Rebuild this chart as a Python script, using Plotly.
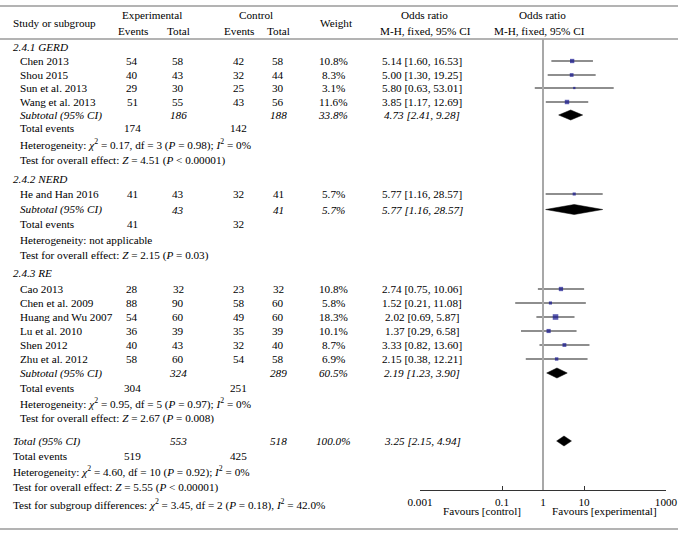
import plotly.graph_objects as go
import math

# ---------------- data ----------------
group_names = ["2.4.1 GERD", "2.4.2 NERD", "2.4.3 RE"]
study_names = ["Chen 2013", "Shou 2015", "Sun et al. 2013", "Wang et al. 2013",
               "He and Han 2016",
               "Cao 2013", "Chen et al. 2009", "Huang and Wu 2007", "Lu et al. 2010",
               "Shen 2012", "Zhu et al. 2012"]
study_group = [0, 0, 0, 0, 1, 2, 2, 2, 2, 2, 2]
exp_events = [54, 40, 29, 51, 41, 28, 88, 54, 36, 40, 58]
exp_total = [58, 43, 30, 55, 43, 32, 90, 60, 39, 43, 60]
ctrl_events = [42, 32, 25, 43, 32, 23, 58, 49, 35, 32, 54]
ctrl_total = [58, 44, 30, 56, 41, 32, 60, 60, 39, 40, 58]
weights = [10.8, 8.3, 3.1, 11.6, 5.7, 10.8, 5.8, 18.3, 10.1, 8.7, 6.9]
or_est = [5.14, 5.00, 5.80, 3.85, 5.77, 2.74, 1.52, 2.02, 1.37, 3.33, 2.15]
or_lo = [1.60, 1.30, 0.63, 1.17, 1.16, 0.75, 0.21, 0.69, 0.29, 0.82, 0.38]
or_hi = [16.53, 19.25, 53.01, 12.69, 28.57, 10.06, 11.08, 5.87, 6.58, 13.60, 12.21]

sub_exp_total = [186, 43, 324]
sub_ctrl_total = [188, 41, 289]
sub_weight = [33.8, 5.7, 60.5]
sub_or = [4.73, 5.77, 2.19]
sub_lo = [2.41, 1.16, 1.23]
sub_hi = [9.28, 28.57, 3.90]
sub_exp_events = [174, 41, 304]
sub_ctrl_events = [142, 32, 251]
het_chi2 = [0.17, None, 0.95]
het_df = [3, None, 5]
het_p = [0.98, None, 0.97]
het_i2 = [0, None, 0]
z_val = [4.51, 2.15, 2.67]
z_p = ["< 0.00001", "= 0.03", "= 0.008"]

tot_exp_total, tot_ctrl_total, tot_weight = 553, 518, 100.0
tot_or, tot_lo, tot_hi = 3.25, 2.15, 4.94
tot_exp_events, tot_ctrl_events = 519, 425
tot_chi2, tot_df, tot_p, tot_i2 = 4.60, 10, 0.92, 0
tot_z, tot_zp = 5.55, "< 0.00001"
diff_chi2, diff_df, diff_p, diff_i2 = 3.45, 2, 0.18, 42.0

null_value = 1
tick_vals = [0.001, 0.1, 1, 10, 1000]
tick_text = ["0.001", "0.1", "1", "10", "1000"]

# ---------------- layout (pixel rows) ----------------
W, H = 685, 537
FONT = "Liberation Serif"
FS = 11.2
group_rows = [
    dict(label=47, studies=[61, 75, 88, 102], sub=115, ev=128, het=144, test=160),
    dict(label=179, studies=[194], sub=209.5, ev=224, het=239.5, test=255),
    dict(label=273, studies=[289, 303, 317, 331, 345, 359], sub=373, ev=388, het=403, test=418),
]
tot_rows = dict(total=441, ev=456, het=471, test=487, diff=504)

X_NAME, X_NAME_IN = 11, 18
X_EE, X_ET, X_CE, X_CT, X_W, X_OR = 132, 178, 239, 278, 333, 422

fig = go.Figure()
ann = []


def txt(x, y, s, anchor="center", italic=False, size=FS):
    if italic:
        s = "<i>" + s + "</i>"
    ann.append(dict(x=x / W, y=y, xref="paper", yref="y", text=s, showarrow=False,
                    xanchor=anchor, yanchor="middle", font=dict(family=FONT, size=size, color="black")))


def het_text(c, d, p, i):
    return ("Heterogeneity: <i>χ</i><sup>2</sup> = %.2f, df = %d (<i>P</i> = %.2f); <i>I</i><sup>2</sup> = %g%%"
            % (c, d, p, i))


def test_text(z, p):
    return "Test for overall effect: <i>Z</i> = %.2f (<i>P</i> %s)" % (z, p)


# headers
txt(X_NAME, 23, "Study or subgroup", "left")
txt(152, 15, "Experimental")
txt(133, 31, "Events")
txt(178, 31, "Total")
txt(256, 15, "Control")
txt(239, 31, "Events")
txt(278, 31, "Total")
txt(336, 23, "Weight")
txt(424, 15, "Odds ratio")
txt(425, 31, "M-H, fixed, 95% CI")
txt(542, 15, "Odds ratio")
txt(539, 31, "M-H, fixed, 95% CI")

ci_x, ci_y, pt_x, pt_y, pt_s = [], [], [], [], []
counters = [0, 0, 0]
for i, name in enumerate(study_names):
    g = study_group[i]
    y = group_rows[g]["studies"][counters[g]]
    counters[g] += 1
    txt(X_NAME_IN, y, name, "left")
    txt(X_EE, y, str(exp_events[i]))
    txt(X_ET, y, str(exp_total[i]))
    txt(X_CE, y, str(ctrl_events[i]))
    txt(X_CT, y, str(ctrl_total[i]))
    txt(X_W, y, "%.1f%%" % weights[i])
    txt(X_OR, y, "%.2f [%.2f, %.2f]" % (or_est[i], or_lo[i], or_hi[i]))
    ci_x += [or_lo[i], or_hi[i], None]
    ci_y += [y, y, None]
    pt_x.append(or_est[i])
    pt_y.append(y)
    pt_s.append(1.3 * math.sqrt(weights[i]))

fig.add_trace(go.Scatter(x=ci_x, y=ci_y, mode="lines", line=dict(color="#1e1e1e", width=1.1),
                         hoverinfo="skip", showlegend=False))
fig.add_trace(go.Scatter(x=pt_x, y=pt_y, mode="markers",
                         marker=dict(symbol="square", size=pt_s, color="#14148f", line=dict(width=0)),
                         hoverinfo="skip", showlegend=False))


def diamond(lo, est, hi, y, h=5):
    fig.add_trace(go.Scatter(x=[lo, est, hi, est, lo], y=[y, y - h, y, y + h, y], mode="lines",
                             fill="toself", fillcolor="black", line=dict(color="black", width=0.5),
                             hoverinfo="skip", showlegend=False))


for g, gname in enumerate(group_names):
    r = group_rows[g]
    txt(X_NAME, r["label"], gname, "left", italic=True)
    txt(X_NAME_IN, r["sub"], "Subtotal (95% CI)", "left", italic=True)
    txt(X_ET, r["sub"], str(sub_exp_total[g]), italic=True)
    txt(X_CT, r["sub"], str(sub_ctrl_total[g]), italic=True)
    txt(X_W, r["sub"], "%.1f%%" % sub_weight[g], italic=True)
    txt(X_OR, r["sub"], "%.2f [%.2f, %.2f]" % (sub_or[g], sub_lo[g], sub_hi[g]), italic=True)
    diamond(sub_lo[g], sub_or[g], sub_hi[g], r["sub"])
    txt(X_NAME_IN, r["ev"], "Total events", "left")
    txt(X_EE, r["ev"], str(sub_exp_events[g]))
    txt(X_CE, r["ev"], str(sub_ctrl_events[g]))
    if het_chi2[g] is None:
        txt(X_NAME_IN, r["het"], "Heterogeneity: not applicable", "left")
    else:
        txt(X_NAME_IN, r["het"], het_text(het_chi2[g], het_df[g], het_p[g], het_i2[g]), "left")
    txt(X_NAME_IN, r["test"], test_text(z_val[g], z_p[g]), "left")

# overall
t = tot_rows
txt(X_NAME, t["total"], "Total (95% CI)", "left", italic=True)
txt(X_ET, t["total"], str(tot_exp_total), italic=True)
txt(X_CT, t["total"], str(tot_ctrl_total), italic=True)
txt(X_W, t["total"], "%.1f%%" % tot_weight, italic=True)
txt(X_OR, t["total"], "%.2f [%.2f, %.2f]" % (tot_or, tot_lo, tot_hi), italic=True)
diamond(tot_lo, tot_or, tot_hi, t["total"])
txt(X_NAME, t["ev"], "Total events", "left")
txt(X_EE, t["ev"], str(tot_exp_events))
txt(X_CE, t["ev"], str(tot_ctrl_events))
txt(X_NAME, t["het"], het_text(tot_chi2, tot_df, tot_p, tot_i2), "left")
txt(X_NAME, t["test"], test_text(tot_z, tot_zp), "left")
txt(X_NAME, t["diff"], "Test for subgroup differences: <i>χ</i><sup>2</sup> = %.2f, df = %d (<i>P</i> = %.2f), <i>I</i><sup>2</sup> = %.1f%%"
    % (diff_chi2, diff_df, diff_p, diff_i2), "left")

# favours labels
txt(482, 511, "Favours [control]")
txt(604, 511, "Favours [experimental]")

AXIS_Y = 490
shapes = [
    dict(type="line", xref="paper", yref="y", x0=0, x1=678 / W, y0=6, y1=6, line=dict(color="#9a9a9a", width=1.5)),
    dict(type="line", xref="paper", yref="y", x0=0, x1=678 / W, y0=39, y1=39, line=dict(color="#9a9a9a", width=1.5)),
    dict(type="line", xref="paper", yref="y", x0=0, x1=678 / W, y0=529, y1=529, line=dict(color="#9a9a9a", width=1.5)),
    dict(type="line", xref="x", yref="y", x0=null_value, x1=null_value, y0=39, y1=AXIS_Y,
         line=dict(color="#a8a8a8", width=2)),
]

fig.update_layout(
    width=W, height=H, margin=dict(l=0, r=0, t=0, b=0, autoexpand=False),
    paper_bgcolor="white", plot_bgcolor="white",
    showlegend=False, hovermode=False,
    annotations=ann, shapes=shapes,
    xaxis=dict(type="log", range=[-3, 3], domain=[420 / W, 666 / W], anchor="free",
               position=1 - AXIS_Y / H, showgrid=False, zeroline=False, showline=True,
               linecolor="#333", linewidth=1, ticks="inside", ticklen=4, tickcolor="#333",
               tickvals=tick_vals, ticktext=tick_text, ticklabelstandoff=2,
               tickfont=dict(family=FONT, size=FS, color="black"), fixedrange=True),
    yaxis=dict(range=[H, 0], domain=[0, 1], visible=False, fixedrange=True),
)

fig.write_html("out.html", config={"displayModeBar": False},
               post_script="document.body.style.margin='0';document.body.style.overflow='hidden';")
